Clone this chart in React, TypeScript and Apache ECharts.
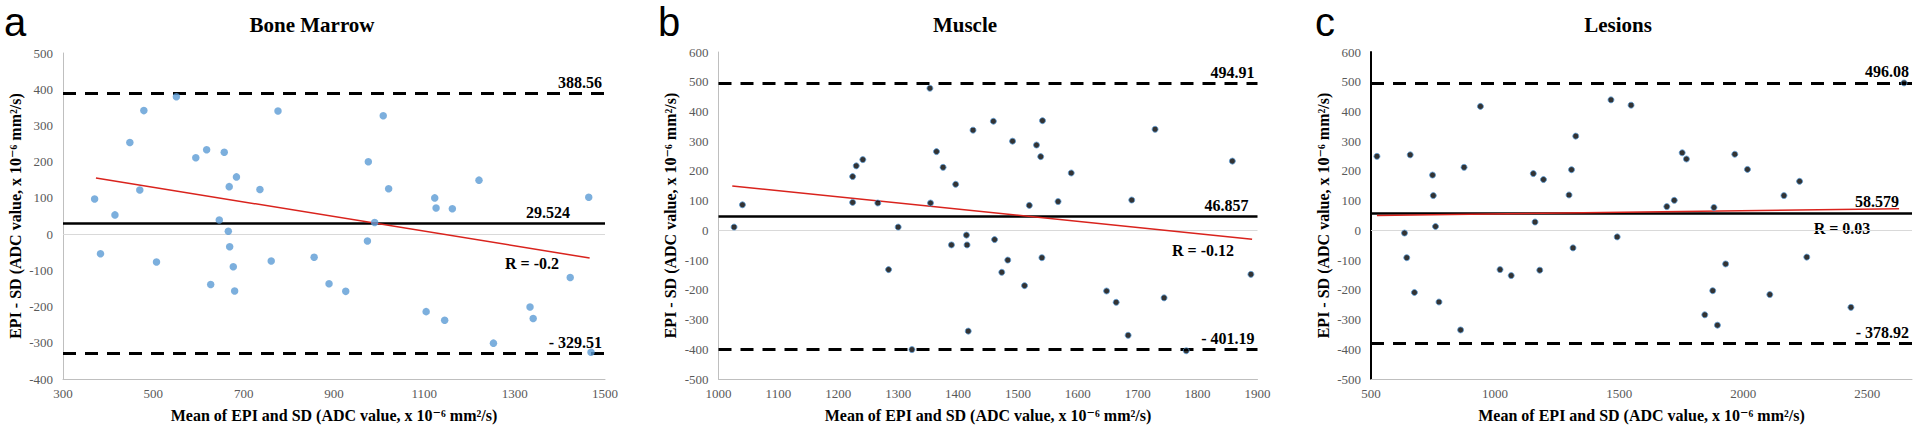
import React, { useEffect, useRef } from 'react';
import * as echarts from 'echarts';

// ---------- Data ----------
// a: Bone Marrow
const boneMean = [370, 383, 415, 448, 470, 479, 507, 551, 594, 618, 627, 646, 657, 666, 668, 669, 677, 680, 684, 736, 761, 776, 856, 889, 926, 974, 976, 990, 1009, 1021, 1104, 1123, 1126, 1145, 1162, 1221, 1253, 1334, 1341, 1423, 1464, 1469];
const boneDiff = [97, -54, 53, 253, 122, 341, -77, 379, 211, 233, -139, 39, 226, 8, 131, -35, -90, -157, 158, 123, -74, 340, -64, -137, -158, -19, 200, 32, 327, 125, -214, 100, 72, -238, 70, 149, -301, -201, -233, -120, 102, -326];
const boneLimits = [388.56, 29.524, -329.51]; // upper, mean, lower
const boneTrendX = [373, 1466];
const boneTrendY = [155, -66];
const boneR = 'R = -0.2';
const boneXTicks = [300, 500, 700, 900, 1100, 1300, 1500];
const boneYTicks = [-400, -300, -200, -100, 0, 100, 200, 300, 400, 500];

// b: Muscle
const muscleMean = [1026, 1040, 1224, 1224, 1230, 1241, 1266, 1284, 1300, 1323, 1353, 1354, 1364, 1375, 1389, 1396, 1414, 1415, 1417, 1425, 1459, 1461, 1473, 1483, 1491, 1511, 1519, 1531, 1538, 1540, 1541, 1567, 1589, 1648, 1664, 1684, 1690, 1729, 1744, 1781, 1858, 1889];
const muscleDiff = [11, 86, 181, 94, 217, 238, 92, -132, 11, -401, 478, 92, 265, 212, -49, 155, -16, -49, -339, 337, 367, -31, -141, -100, 300, -186, 84, 287, 248, -92, 369, 97, 193, -204, -242, -353, 102, 340, -227, -405, 233, -148];
const muscleLimits = [494.91, 46.857, -401.19];
const muscleTrendX = [1023, 1891];
const muscleTrendY = [149, -30];
const muscleR = 'R = -0.12';
const muscleXTicks = [1000, 1100, 1200, 1300, 1400, 1500, 1600, 1700, 1800, 1900];
const muscleYTicks = [-500, -400, -300, -200, -100, 0, 100, 200, 300, 400, 500, 600];

// c: Lesions
const lesionMean = [524, 635, 644, 658, 675, 748, 751, 760, 774, 861, 875, 941, 1020, 1065, 1154, 1161, 1180, 1195, 1298, 1308, 1314, 1325, 1467, 1492, 1548, 1692, 1722, 1754, 1771, 1845, 1877, 1882, 1896, 1929, 1966, 2017, 2107, 2164, 2227, 2256, 2434, 2648];
const lesionDiff = [249, -9, -92, 254, -209, 186, 117, 13, -241, -335, 212, 417, -132, -152, 191, 28, -134, 171, 119, 204, -59, 317, 439, -22, 421, 80, 101, 261, 240, -284, -203, 77, -319, -113, 256, 205, -216, 117, 165, -90, -259, 496];
const lesionLimits = [496.08, 58.579, -378.92];
const lesionTrendX = [524, 2628];
const lesionTrendY = [50, 73];
const lesionR = 'R = 0.03';
const lesionXTicks = [500, 1000, 1500, 2000, 2500];
const lesionXMax = 2680;
const lesionYTicks = [-500, -400, -300, -200, -100, 0, 100, 200, 300, 400, 500, 600];

const panelTitles = ['Bone Marrow', 'Muscle', 'Lesions'];
const panelLetters = ['a', 'b', 'c'];
const xName = 'Mean of EPI and SD (ADC value, x 10\u207B\u2076 mm\u00B2/s)';
const yName = 'EPI - SD (ADC value, x 10\u207B\u2076 mm\u00B2/s)';

// ---------- Styling ----------
const SERIF = '"Liberation Serif", "Times New Roman", "DejaVu Serif", serif';
const SANS = '"Liberation Sans", Arial, sans-serif';

const fmtLimit = (v: number) => (v < 0 ? '- ' + Math.abs(v) : String(v));
const fmtTick = (v: number) => String(v);

function pairs(xs: number[], ys: number[]) {
  return xs.map((x, i) => [x, ys[i]]);
}

function limitLines(limits: number[], meanPad: number) {
  const lbl = (v: number, pad: number) => ({
    show: true,
    position: 'insideEndTop',
    formatter: fmtLimit(v),
    color: '#000',
    fontFamily: SERIF,
    fontWeight: 'bold',
    fontSize: 16,
    distance: 3,
    padding: [0, pad, 0, 0],
  });
  return {
    z: 1,
    silent: true,
    symbol: 'none',
    precision: 3,
    data: [
      { yAxis: 0, lineStyle: { color: '#d9d9d9', width: 1, type: 'solid' }, label: { show: false } },
      { yAxis: limits[0], lineStyle: { color: '#000', width: 3, type: [13, 9] }, label: lbl(limits[0], 0) },
      { yAxis: limits[1], lineStyle: { color: '#000', width: 2.5, type: 'solid' }, label: lbl(limits[1], meanPad) },
      { yAxis: limits[2], lineStyle: { color: '#000', width: 3, type: [13, 9] }, label: lbl(limits[2], 0) },
    ],
  };
}

function xAxisOf(idx: number, ticks: number[], max: number) {
  return {
    type: 'value',
    gridIndex: idx,
    min: ticks[0],
    max,
    interval: ticks[1] - ticks[0],
    splitLine: { show: false },
    axisTick: { show: false },
    axisLine: { show: true, onZero: false, lineStyle: { color: '#bfbfbf', width: 1 } },
    axisLabel: {
      color: '#595959',
      fontFamily: SERIF,
      fontSize: 13,
      margin: 8,
      formatter: fmtTick,
      showMaxLabel: max === ticks[ticks.length - 1],
    },
    name: xName,
    nameLocation: 'middle',
    nameGap: 28,
    nameTextStyle: { color: '#000', fontFamily: SERIF, fontWeight: 'bold', fontSize: 16 },
  };
}

function yAxisOf(idx: number, ticks: number[], axisColor: string, axisWidth: number) {
  return {
    type: 'value',
    gridIndex: idx,
    min: ticks[0],
    max: ticks[ticks.length - 1],
    interval: ticks[1] - ticks[0],
    splitLine: { show: false },
    axisTick: { show: false },
    axisLine: { show: true, onZero: false, lineStyle: { color: axisColor, width: axisWidth } },
    axisLabel: { color: '#595959', fontFamily: SERIF, fontSize: 13, margin: 10, formatter: fmtTick },
    name: yName,
    nameLocation: 'middle',
    nameGap: 40,
    nameTextStyle: { color: '#000', fontFamily: SERIF, fontWeight: 'bold', fontSize: 16 },
  };
}

function trend(idx: number, xs: number[], ys: number[], limits: number[], meanPad: number) {
  return {
    type: 'line',
    xAxisIndex: idx,
    yAxisIndex: idx,
    data: pairs(xs, ys),
    symbol: 'none',
    z: 2,
    lineStyle: { color: '#d9231d', width: 1.5 },
    markLine: limitLines(limits, meanPad),
  };
}

const blueDot = { color: '#5B9BD5' };
const blackDot = { color: '#000', borderColor: '#5B9BD5', borderWidth: 1 };

function textEl(text: string, x: number, y: number, font: string, align = 'center') {
  return {
    type: 'text',
    x,
    y,
    silent: true,
    style: { text, font, fill: '#000', align, verticalAlign: 'middle' },
  };
}

export default function App() {
  const ref = useRef<HTMLDivElement>(null);

  useEffect(() => {
    if (!ref.current) return;
    const chart = echarts.init(ref.current, undefined, { renderer: 'svg' });
    chart.setOption({
      animation: false,
      backgroundColor: '#fff',
      grid: [
        { left: 63, top: 53, width: 542, height: 326 },
        { left: 718.5, top: 52, width: 539, height: 327 },
        { left: 1371, top: 52, width: 541, height: 327 },
      ],
      xAxis: [
        xAxisOf(0, boneXTicks, boneXTicks[boneXTicks.length - 1]),
        xAxisOf(1, muscleXTicks, muscleXTicks[muscleXTicks.length - 1]),
        xAxisOf(2, lesionXTicks, lesionXMax),
      ],
      yAxis: [
        yAxisOf(0, boneYTicks, '#bfbfbf', 1),
        yAxisOf(1, muscleYTicks, '#bfbfbf', 1),
        yAxisOf(2, lesionYTicks, '#000', 2),
      ],
      series: [
        trend(0, boneTrendX, boneTrendY, boneLimits, 32),
        { type: 'scatter', xAxisIndex: 0, yAxisIndex: 0, z: 3, symbolSize: 7.5, itemStyle: blueDot, data: pairs(boneMean, boneDiff) },
        trend(1, muscleTrendX, muscleTrendY, muscleLimits, 6),
        { type: 'scatter', xAxisIndex: 1, yAxisIndex: 1, z: 3, symbolSize: 6, itemStyle: blackDot, data: pairs(muscleMean, muscleDiff) },
        trend(2, lesionTrendX, lesionTrendY, lesionLimits, 10),
        { type: 'scatter', xAxisIndex: 2, yAxisIndex: 2, z: 3, symbolSize: 6, itemStyle: blackDot, data: pairs(lesionMean, lesionDiff) },
      ],
      graphic: [
        textEl(panelLetters[0], 4, 22, `40px ${SANS}`, 'left'),
        textEl(panelLetters[1], 658, 22, `40px ${SANS}`, 'left'),
        textEl(panelLetters[2], 1315, 22, `40px ${SANS}`, 'left'),
        textEl(panelTitles[0], 312, 25, `bold 21px ${SERIF}`),
        textEl(panelTitles[1], 965, 25, `bold 21px ${SERIF}`),
        textEl(panelTitles[2], 1618, 25, `bold 21px ${SERIF}`),
        textEl(boneR, 532, 263, `bold 16px ${SERIF}`),
        textEl(muscleR, 1203, 250, `bold 16px ${SERIF}`),
        textEl(lesionR, 1842, 228, `bold 16px ${SERIF}`),
      ],
    });
    return () => chart.dispose();
  }, []);

  return (
    <div
      ref={ref}
      style={{ position: 'fixed', left: 0, top: 0, width: 1920, height: 430, background: '#fff' }}
    />
  );
}
